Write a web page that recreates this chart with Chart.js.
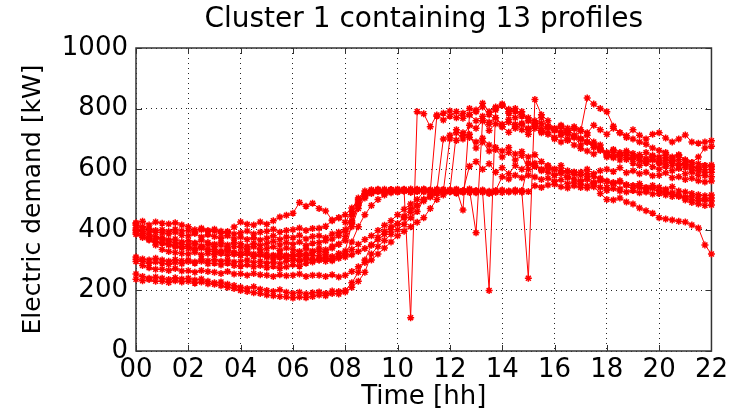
<!DOCTYPE html>
<html><head><meta charset="utf-8">
<script src="https://cdn.jsdelivr.net/npm/chart.js@4/dist/chart.umd.min.js"></script>
<style>html,body{margin:0;padding:0;background:#fff;}</style>
</head><body>
<canvas id="c" width="732" height="415"></canvas>
<script>
const chartTitle = 'Cluster 1 containing 13 profiles';
const xTitle = 'Time [hh]';
const yTitle = 'Electric demand [kW]';
const xTickLabels = ['00','02','04','06','08','10','12','14','16','18','20','22'];
const yTickValues = [0,200,400,600,800,1000];
// quarter-hour time categories 00:00 .. 22:00
const times = Array.from({length: 89}, (_, i) => i / 4);

const p01 = [423,428,416,426, 422,419,423,416, 410,400,405,398, 402,395,390,409, 426,418,416,426, 418,430,442,448, 455,490,478,488, 470,462,432,440, 425,460,505,528, 532,528,534,530, 533,528,531,534, 530,527,775,785, 792,770,785,800, 790,805,780,795, 810,785,770,790, 760,745,770,740, 735,745,725,740, 730,720,745,730, 715,735,720,710, 730,712,700,715, 720,703,690,700, 713,690,686,690, 694];
const p02 = [415,402,396,392, 390,386,392,382, 380,388,376,384, 378,372,380,370, 376,368,374,366, 372,380,368,376, 374,382,370,378, 380,374,386,392, 395,425,480,520, 528,532,526,530, 534,527,110,790, 783,740,779,762, 775,790,768,780, 760,775,755,770, 748,765,740,752, 735,748,728,740, 730,720,735,712, 700,690,680,670, 655,665,648,660, 652,640,655,645, 640,650,635,645, 630,622,640,670, 676];
const p03 = [406,395,385,378, 370,362,358,352, 350,356,346,352, 344,350,340,346, 342,336,344,334, 338,344,332,340, 335,328,338,330, 340,334,346,352, 365,410,470,505, 522,530,526,532, 528,533,527,531, 535,529,532,528, 700,730,710,745, 735,760,728,750, 740,722,748,730, 715,735,720,738, 728,740,722,735, 725,835,815,800, 790,742,720,705, 700,690,682,670, 662,655,640,648, 630,622,618,612, 614];
const p04 = [400,388,372,350, 335,328,325,322, 320,326,318,322, 318,324,316,320, 316,322,312,318, 310,316,308,312, 318,322,316,326, 330,326,340,352, 378,430,490,515, 524,530,522,528, 526,531,524,529, 527,532,525,530, 528,534,465,780, 795,818,790,805, 812,790,800,775, 760,750,735,720, 705,690,700,680, 668,660,650,662, 645,638,650,632, 640,628,620,632, 622,615,628,612, 620,610,605,612, 608];
const p05 = [397,380,368,360, 356,350,344,340, 338,332,340,330, 328,322,330,320, 316,322,312,318, 310,304,312,306, 305,298,308,300, 300,306,298,310, 320,360,410,450, 480,500,515,522, 526,530,524,528, 531,525,529,533, 527,530,526,532, 390,760,748,770, 740,755,735,748, 730,742,725,715, 700,712,695,705, 680,690,672,665, 650,662,645,655, 640,648,635,642, 630,638,625,632, 615,608,602,598, 600];
const p06 = [390,382,376,370, 374,366,370,360, 364,356,366,358, 352,360,350,358, 354,346,356,348, 355,362,350,358, 352,360,348,356, 358,364,370,380, 400,450,495,512, 525,530,527,533, 529,534,530,526, 532,528,534,530, 527,533,529,535, 530,526,200,800, 815,798,790,780, 770,760,752,740, 730,722,715,708, 700,690,680,668, 650,642,655,638, 632,640,625,630, 620,628,612,618, 605,598,594,588, 590];
const p07 = [385,375,366,360, 358,352,348,344, 345,338,344,336, 335,330,336,326, 325,330,320,326, 320,314,322,316, 318,312,320,314, 315,320,312,322, 330,420,485,510, 520,526,522,528, 525,530,526,532, 528,524,530,526, 532,528,524,530, 526,531,527,524, 529,525,531,527, 240,830,780,760, 730,740,720,735, 700,712,690,680, 640,655,630,645, 620,612,625,608, 600,610,595,602, 585,590,580,578, 575];
const p08 = [310,304,300,306, 300,296,302,298, 300,294,304,298, 302,296,300,294, 295,300,292,296, 290,294,288,296, 300,296,304,300, 305,310,302,312, 320,335,352,368, 380,398,415,430, 450,468,485,500, 525,530,526,700, 712,695,720,705, 690,702,680,672, 660,672,650,658, 640,648,625,610, 600,612,595,590, 590,600,585,595, 600,592,605,588, 595,585,590,578, 580,588,572,575, 566,570,562,558, 561];
const p09 = [303,296,290,294, 290,286,292,288, 295,290,296,288, 290,284,290,282, 280,285,278,282, 275,280,272,278, 285,280,290,294, 300,296,304,306, 310,318,328,338, 350,368,385,400, 420,440,458,480, 495,508,520,524, 527,522,528,610, 625,600,618,590, 605,585,612,600, 620,610,598,590, 580,586,572,568, 560,566,555,562, 560,552,558,548, 545,552,540,546, 540,534,542,528, 525,520,516,512, 515];
const p10 = [295,282,275,270, 270,266,272,264, 265,260,266,262, 260,256,262,254, 255,250,256,252, 250,246,252,248, 250,254,246,250, 250,246,252,244, 250,262,278,292, 300,320,340,360, 380,395,410,425, 440,470,500,515, 525,521,527,523, 528,524,520,526, 523,528,525,530, 526,545,540,548, 550,542,538,545, 540,538,542,520, 500,498,505,492, 485,472,463,455, 440,436,432,428, 426,416,406,350, 320];
const p11 = [254,246,240,244, 240,236,242,238, 240,234,238,230, 225,228,220,216, 210,206,212,204, 200,196,202,194, 190,194,188,192, 195,190,198,196, 200,225,260,300, 350,375,395,410, 420,445,470,480, 500,515,520,524, 527,523,529,525, 522,528,524,530, 575,568,580,572, 580,574,566,570, 560,565,552,558, 550,545,552,540, 530,536,528,525, 530,522,528,518, 520,515,522,510, 508,512,504,500, 505];
const p12 = [237,232,236,230, 230,226,232,228, 230,224,228,222, 220,215,210,206, 200,196,192,190, 185,182,180,178, 175,178,176,180, 185,182,190,188, 195,210,230,260, 320,345,365,385, 400,418,440,460, 500,510,520,524, 528,524,526,530, 525,529,522,527, 531,526,530,524, 620,612,600,605, 600,595,590,585, 580,586,575,570, 560,555,562,548, 545,540,535,538, 530,524,518,512, 505,500,495,498, 495];
const p13 = [420,410,404,398, 400,394,402,396, 398,392,400,394, 396,388,394,386, 390,396,386,392, 395,402,392,398, 400,406,398,404, 405,412,430,440, 450,472,500,520, 530,534,528,532, 527,531,535,529, 533,530,526,532, 528,720,700,715, 670,690,660,665, 640,655,630,645, 600,620,595,612, 580,595,575,590, 560,575,555,568, 540,555,535,548, 530,545,525,538, 520,528,510,515, 498,490,485,480, 482];

const profiles = [p01,p02,p03,p04,p05,p06,p07,p08,p09,p10,p11,p12,p13];

const FONT = 'DejaVu Sans';
const RED = '#ff0000';

const frame = {
  id: 'frame',
  beforeDatasetsDraw(chart) {
    const {ctx, chartArea: a, scales: {x, y}} = chart;
    ctx.save();
    ctx.strokeStyle = '#333';
    ctx.lineWidth = 1;
    ctx.beginPath();
    x.ticks.forEach(t => {
      const px = Math.round(x.getPixelForValue(t.value)) + 0.5;
      ctx.moveTo(px, a.bottom); ctx.lineTo(px, a.bottom - 6);
      ctx.moveTo(px, a.top); ctx.lineTo(px, a.top + 6);
    });
    y.ticks.forEach(t => {
      const py = Math.round(y.getPixelForValue(t.value)) + 0.5;
      ctx.moveTo(a.left, py); ctx.lineTo(a.left + 6, py);
      ctx.moveTo(a.right, py); ctx.lineTo(a.right - 6, py);
    });
    ctx.stroke();
    ctx.lineWidth = 1.5;
    ctx.strokeRect(a.left, a.top, a.right - a.left, a.bottom - a.top);
    ctx.restore();
  }
};

new Chart(document.getElementById('c'), {
  type: 'line',
  data: {
    datasets: profiles.map((p, k) => ({
      label: 'Profile ' + (k + 1),
      data: times.map((t, i) => ({x: t, y: p[i]})),
      borderColor: RED,
      backgroundColor: RED,
      borderWidth: 1,
      pointStyle: 'star',
      pointRadius: 3.5,
      pointBorderWidth: 1.5,
      pointBorderColor: RED,
      pointBackgroundColor: RED,
      tension: 0,
      fill: false,
      clip: false
    }))
  },
  options: {
    responsive: false,
    devicePixelRatio: 1,
    animation: false,
    events: [],
    layout: {padding: {left: 0, right: 20, top: 0, bottom: 0}},
    plugins: {
      legend: {display: false},
      tooltip: {enabled: false},
      title: {
        display: true,
        text: chartTitle,
        fullSize: false,
        color: '#000',
        font: {family: FONT, size: 28, weight: 'normal'},
        padding: {top: 3, bottom: 11.4}
      }
    },
    scales: {
      x: {
        type: 'linear',
        min: 0, max: 22,
        afterFit(s) { s.height = 64; },
        ticks: {
          stepSize: 2, autoSkip: false, maxRotation: 0, padding: 4,
          color: '#000', font: {family: FONT, size: 26},
          callback: v => xTickLabels[Math.round(v / 2)]
        },
        grid: {color: 'rgba(0,0,0,0.85)', lineWidth: 1, drawTicks: false},
        border: {display: false, dash: [1, 4]},
        title: {display: true, text: xTitle, color: '#000', font: {family: FONT, size: 26}, padding: {top: 0, bottom: 2}}
      },
      y: {
        min: 0, max: 1000,
        afterFit(s) { s.width = 136; },
        afterBuildTicks(s) { s.ticks = yTickValues.map(v => ({value: v})); },
        ticks: {padding: 8, color: '#000', font: {family: FONT, size: 26}, callback: v => String(v)},
        grid: {color: 'rgba(0,0,0,0.85)', lineWidth: 1, drawTicks: false},
        border: {display: false, dash: [1, 4]},
        title: {display: true, text: yTitle, color: '#000', font: {family: FONT, size: 25}, padding: {top: 18, bottom: 0}}
      }
    }
  },
  plugins: [frame]
});
</script>
</body></html>
